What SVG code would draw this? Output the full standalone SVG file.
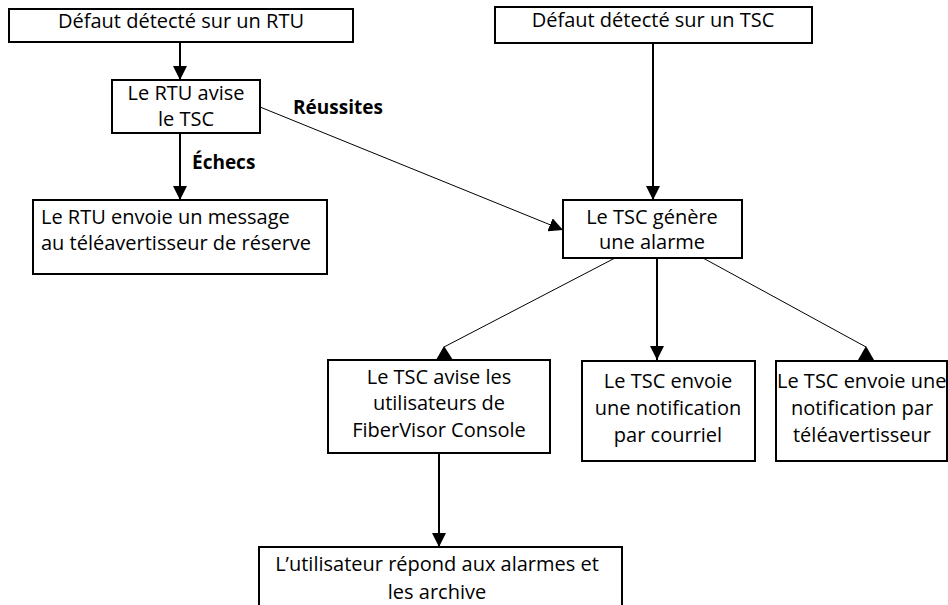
<svg xmlns="http://www.w3.org/2000/svg" width="948" height="605" viewBox="0 0 948 605">
<style>
.box{fill:#fff;stroke:#000;stroke-width:2}
.t{font-family:"Open Sans","Noto Sans","Liberation Sans",sans-serif;font-size:20px;fill:#000}
.c{text-anchor:middle}
.b{font-weight:bold;font-size:19px}
.thick{stroke:#000;stroke-width:2;fill:none}
.thin{stroke:#000;stroke-width:1;fill:none}
</style>
<defs>
<marker id="arr" viewBox="0 0 10 10" refX="10" refY="5" markerWidth="14" markerHeight="14" markerUnits="userSpaceOnUse" orient="auto">
<path d="M0,0 L10,5 L0,10 z" fill="#000"/>
</marker>
</defs>
<rect width="948" height="605" fill="#fff"/>
<g id="connectors">
<line class="thick" x1="180" y1="42" x2="180" y2="80" marker-end="url(#arr)"/>
<line class="thick" x1="180" y1="133" x2="180" y2="200" marker-end="url(#arr)"/>
<line class="thin" x1="260" y1="107" x2="563" y2="230" marker-end="url(#arr)"/>
<line class="thick" x1="653" y1="43" x2="653" y2="200" marker-end="url(#arr)"/>
<line class="thin" x1="615" y1="258" x2="444" y2="347"/>
<polygon points="444,346 436,360 453,360" fill="#000"/>
<line class="thick" x1="657" y1="258" x2="657" y2="360" marker-end="url(#arr)"/>
<line class="thin" x1="703" y1="258" x2="866" y2="347"/>
<polygon points="866,346 858,360 874,360" fill="#000"/>
<line class="thick" x1="439" y1="453" x2="439" y2="547" marker-end="url(#arr)"/>
<text class="t b" x="293" y="114">Réussites</text>
<text class="t b" x="192" y="169">Échecs</text>
</g>
<g id="n1"><rect class="box" x="9" y="9" width="344" height="33"/>
<text class="t c" x="181" y="28">Défaut détecté sur un RTU</text></g>
<g id="n2"><rect class="box" x="112" y="80" width="148" height="53"/>
<text class="t c" x="186" y="100">Le RTU avise</text>
<text class="t c" x="186" y="126">le TSC</text></g>
<g id="n3"><rect class="box" x="33" y="200" width="294" height="74"/>
<text class="t" x="41" y="224">Le RTU envoie un message</text>
<text class="t" x="41" y="250">au téléavertisseur de réserve</text></g>
<g id="n4"><rect class="box" x="495" y="7" width="317" height="36"/>
<text class="t c" x="653" y="27">Défaut détecté sur un TSC</text></g>
<g id="n5"><rect class="box" x="563" y="200" width="179" height="58"/>
<text class="t c" x="652" y="224">Le TSC génère</text>
<text class="t c" x="652" y="249">une alarme</text></g>
<g id="n6"><rect class="box" x="328" y="360" width="222" height="93"/>
<text class="t c" x="439" y="384">Le TSC avise les</text>
<text class="t c" x="439" y="410">utilisateurs de</text>
<text class="t c" x="439" y="437">FiberVisor Console</text></g>
<g id="n7"><rect class="box" x="582" y="361" width="173" height="100"/>
<text class="t c" x="668" y="388">Le TSC envoie</text>
<text class="t c" x="668" y="415">une notification</text>
<text class="t c" x="668" y="442">par courriel</text></g>
<g id="n8"><rect class="box" x="776" y="361" width="171" height="100"/>
<text class="t" x="777" y="388">Le TSC envoie une</text>
<text class="t c" x="862" y="415">notification par</text>
<text class="t c" x="862" y="442">téléavertisseur</text></g>
<g id="n9"><rect class="box" x="259" y="547" width="363" height="60"/>
<text class="t c" x="437" y="571">L’utilisateur répond aux alarmes et</text>
<text class="t c" x="437" y="599">les archive</text></g>
</svg>
